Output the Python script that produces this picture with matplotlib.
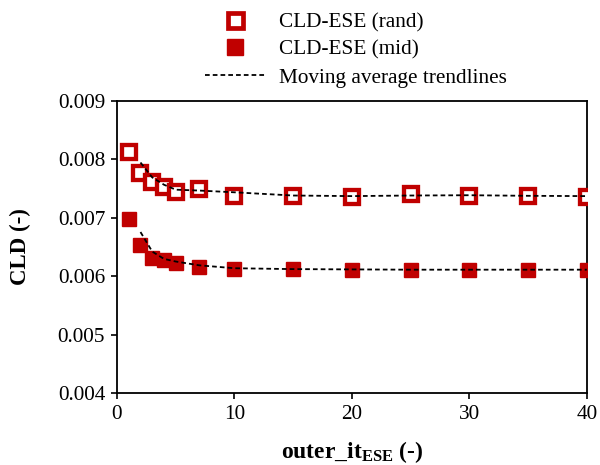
import numpy as np
import matplotlib
matplotlib.use("Agg")
import matplotlib.pyplot as plt
from matplotlib.lines import Line2D

plt.rcParams['font.family'] = ['Liberation Serif', 'DejaVu Serif']
plt.rcParams['mathtext.fontset'] = 'custom'
plt.rcParams['mathtext.rm'] = 'Liberation Serif'
plt.rcParams['mathtext.bf'] = 'Liberation Serif:bold'
plt.rcParams['mathtext.it'] = 'Liberation Serif:italic'

# Data
outer_it = [1, 2, 3, 4, 5, 7, 10, 15, 20, 25, 30, 35, 40]
cld_rand = [0.00812, 0.00777, 0.00761, 0.00752, 0.00744, 0.00749, 0.00738,
            0.00738, 0.00736, 0.00740, 0.00737, 0.00738, 0.00736]
cld_mid = [0.00698, 0.00653, 0.00631, 0.00628, 0.00622, 0.00615, 0.00612,
           0.00612, 0.00611, 0.00611, 0.00611, 0.00611, 0.00611]
x_ticks = [0, 10, 20, 30, 40]
y_ticks = [0.004, 0.005, 0.006, 0.007, 0.008, 0.009]

red = '#C00000'
dash = (0, (2.6, 1.7))

def moving_avg(x, y, n=2):
    y = np.asarray(y)
    ma = np.convolve(y, np.ones(n) / n, mode='valid')
    return np.asarray(x)[n - 1:], ma

fig = plt.figure(figsize=(6, 4.65), dpi=100)
ax = fig.add_axes([0.195, 0.155, 0.783, 0.628])

ax.plot(outer_it, cld_rand, linestyle='none', marker='s', markersize=9.6,
        markerfacecolor='white', markeredgecolor=red, markeredgewidth=3.1, zorder=3)
ax.plot(outer_it, cld_mid, linestyle='none', marker='s', markersize=10.5,
        markerfacecolor=red, markeredgecolor=red, markeredgewidth=1, zorder=3)

mx, my = moving_avg(outer_it, cld_rand)
ax.plot(mx, my, color='black', linestyle=dash, linewidth=1.3, zorder=4)
mx, my = moving_avg(outer_it, cld_mid)
ax.plot(mx, my, color='black', linestyle=dash, linewidth=1.3, zorder=4)

ax.set_xlim(0, 40)
ax.set_ylim(0.004, 0.009)
ax.set_xticks(x_ticks)
ax.set_yticks(y_ticks)
ax.set_yticklabels([f'{v:.3f}' for v in y_ticks])
ax.tick_params(direction='out', length=4.5, width=1.2, labelsize=15.3, pad=4)
for s in ax.spines.values():
    s.set_linewidth(1.3)
    s.set_color('black')

ax.set_ylabel('CLD (-)', fontsize=16.5, fontweight='bold', labelpad=19)
ax.set_xlabel(r'outer_it$_{\mathbf{ESE}}$ (-)', fontsize=17, fontweight='bold', labelpad=11)

handles = [
    Line2D([], [], linestyle='none', marker='s', markersize=10.8,
           markerfacecolor='white', markeredgecolor=red, markeredgewidth=3.4),
    Line2D([], [], linestyle='none', marker='s', markersize=12,
           markerfacecolor=red, markeredgecolor=red, markeredgewidth=1),
    Line2D([], [], color='black', linestyle=dash, linewidth=1.3),
]
labels = ['CLD-ESE (rand)', 'CLD-ESE (mid)', 'Moving average trendlines']
fig.legend(handles, labels, loc='upper left', bbox_to_anchor=(0.328, 0.992),
           frameon=False, fontsize=15.3, handlelength=2.8, handletextpad=0.67,
           labelspacing=0.37, borderaxespad=0)

fig.savefig('out.png', dpi=100)
